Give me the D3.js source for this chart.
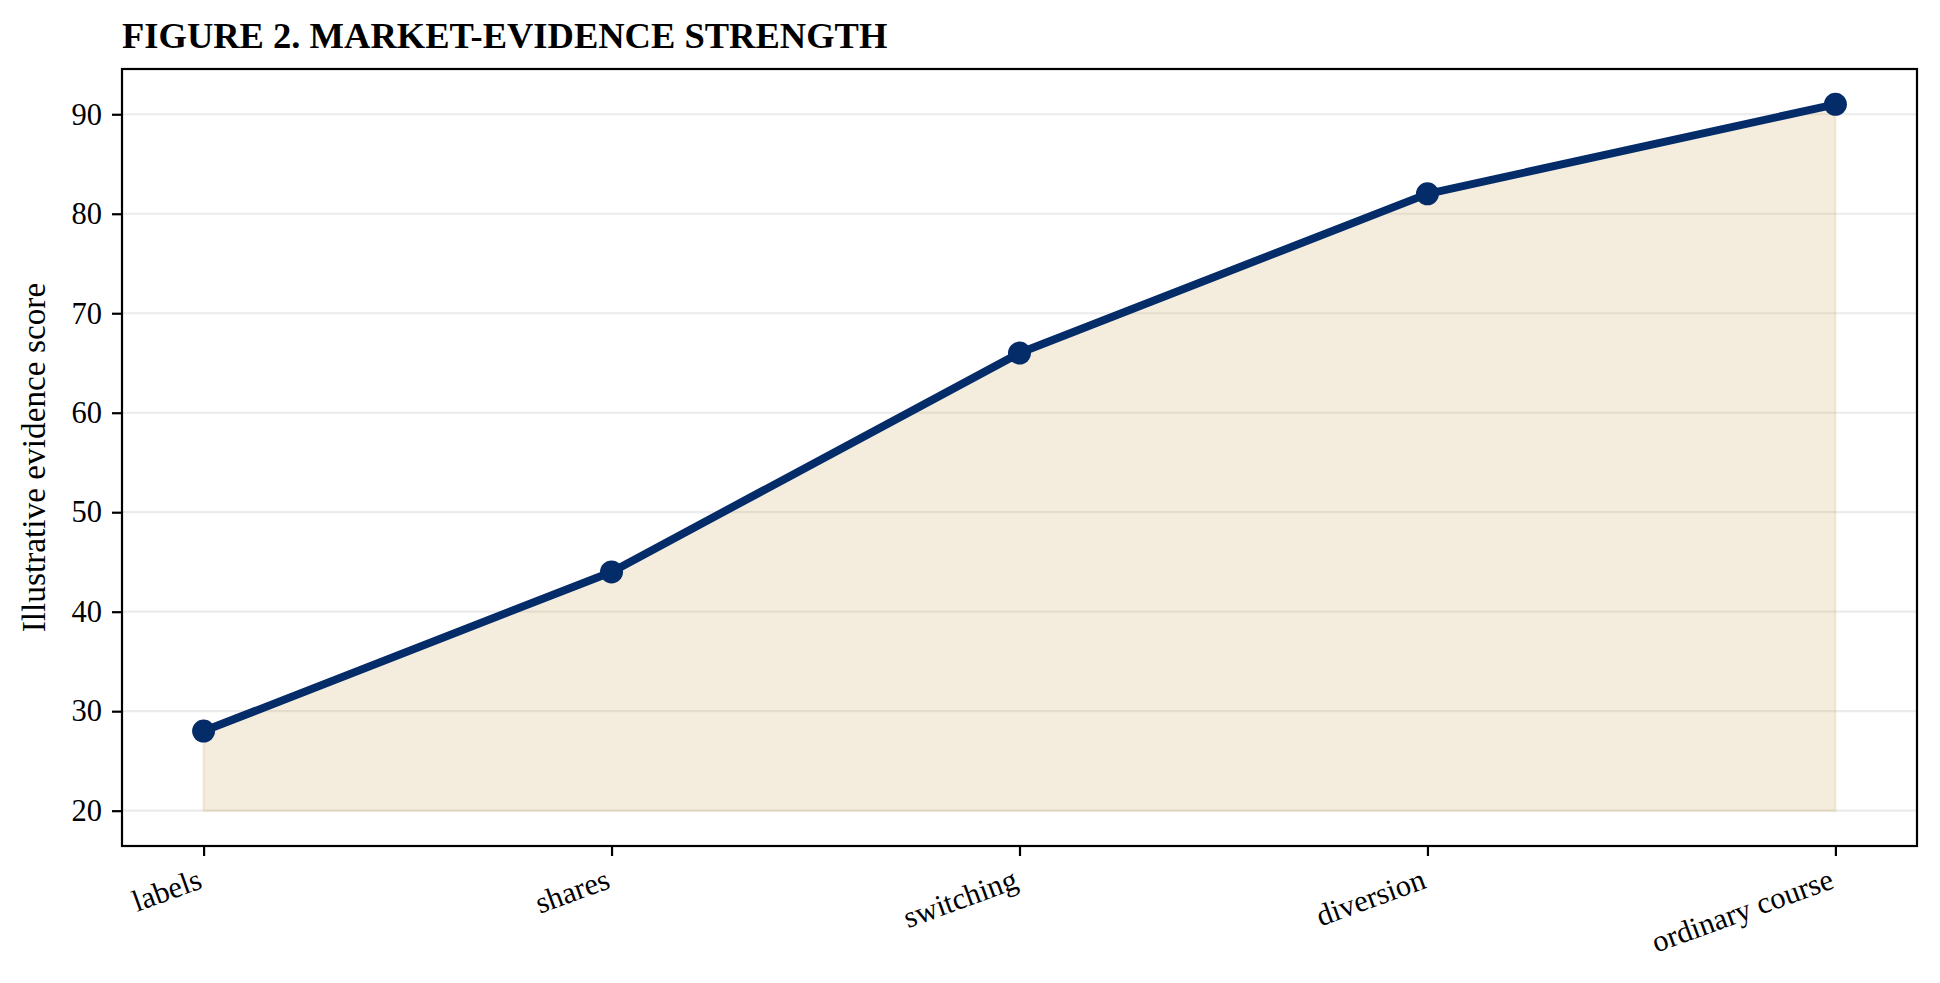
<!DOCTYPE html>
<html>
<head>
<meta charset="utf-8">
<script src="https://cdn.jsdelivr.net/npm/d3@7"></script>
<style>
  body { margin: 0; background: #fff; }
  svg { display: block; font-family: "Liberation Serif", "Times New Roman", serif; }
</style>
</head>
<body>
<svg id="chart" width="1940" height="983"></svg>
<script>
// data
var categories = ["labels", "shares", "switching", "diversion", "ordinary course"];
var scores = [28, 44, 66, 82, 91];
var yTicks = [20, 30, 40, 50, 60, 70, 80, 90];
var baseline = 20;

var plotLeft = 122, plotRight = 1917, plotTop = 69, plotBottom = 846;
var navy = "#042c69";
var tan = "#c8a45a";

var svg = d3.select("#chart");

var xScale = d3.scaleLinear()
    .domain([-0.2, categories.length - 1 + 0.2])
    .range([plotLeft, plotRight]);

var yScale = d3.scaleLinear()
    .domain([16.45, 94.55])
    .range([plotBottom, plotTop]);

var dataset = categories.map(function(c, i) {
    return {i: i, name: c, score: scores[i]};
});

// grid
svg.append("g")
    .selectAll("line")
    .data(yTicks)
    .enter()
    .append("line")
    .attr("x1", plotLeft)
    .attr("x2", plotRight)
    .attr("y1", function(d) { return yScale(d); })
    .attr("y2", function(d) { return yScale(d); })
    .attr("stroke", "#b0b0b0")
    .attr("stroke-opacity", 0.25)
    .attr("stroke-width", 2.2);

// filled area under the line
var area = d3.area()
    .x(function(d) { return xScale(d.i); })
    .y0(yScale(baseline))
    .y1(function(d) { return yScale(d.score); });

svg.append("path")
    .datum(dataset)
    .attr("d", area)
    .attr("fill", tan)
    .attr("fill-opacity", 0.2)
    .attr("stroke", tan)
    .attr("stroke-opacity", 0.2)
    .attr("stroke-width", 2);

// line + markers
var line = d3.line()
    .x(function(d) { return xScale(d.i); })
    .y(function(d) { return yScale(d.score); });

svg.append("path")
    .datum(dataset)
    .attr("d", line)
    .attr("fill", "none")
    .attr("stroke", navy)
    .attr("stroke-width", 8)
    .attr("stroke-linejoin", "round");

svg.append("g")
    .selectAll("circle")
    .data(dataset)
    .enter()
    .append("circle")
    .attr("cx", function(d) { return xScale(d.i); })
    .attr("cy", function(d) { return yScale(d.score); })
    .attr("r", 11.5)
    .attr("fill", navy);

// axes
var yAxis = d3.axisLeft(yScale)
    .tickValues(yTicks)
    .tickSize(10)
    .tickPadding(10);

var yg = svg.append("g")
    .attr("transform", "translate(" + plotLeft + ",0)")
    .call(yAxis);
yg.select(".domain").remove();
yg.selectAll(".tick line").attr("stroke", "#000").attr("stroke-width", 2.2);
yg.selectAll(".tick text")
    .attr("font-size", 30.5)
    .attr("font-family", "Liberation Serif")
    .attr("fill", "#000");

var xAxis = d3.axisBottom(xScale)
    .tickValues(d3.range(categories.length))
    .tickFormat(function(i) { return categories[i]; })
    .tickSize(10)
    .tickPadding(0);

var xg = svg.append("g")
    .attr("transform", "translate(0," + plotBottom + ")")
    .call(xAxis);
xg.select(".domain").remove();
xg.selectAll(".tick line").attr("stroke", "#000").attr("stroke-width", 2.2);
xg.selectAll(".tick text")
    .attr("font-size", 30.5)
    .attr("font-family", "Liberation Serif")
    .attr("fill", "#000")
    .attr("text-anchor", "end")
    .attr("x", -8)
    .attr("y", 21)
    .attr("dy", "0.72em")
    .attr("transform", "rotate(-20,-8,21)");

// frame
svg.append("rect")
    .attr("x", plotLeft)
    .attr("y", plotTop)
    .attr("width", plotRight - plotLeft)
    .attr("height", plotBottom - plotTop)
    .attr("fill", "none")
    .attr("stroke", "#000")
    .attr("stroke-width", 2.2);

// labels
svg.append("text")
    .text("FIGURE 2. MARKET-EVIDENCE STRENGTH")
    .attr("x", plotLeft)
    .attr("y", 48)
    .attr("font-size", 36.5)
    .attr("font-weight", "bold");

svg.append("text")
    .text("Illustrative evidence score")
    .attr("text-anchor", "middle")
    .attr("font-size", 33.3)
    .attr("transform", "translate(45," + ((plotTop + plotBottom) / 2) + ") rotate(-90)");
</script>
</body>
</html>
